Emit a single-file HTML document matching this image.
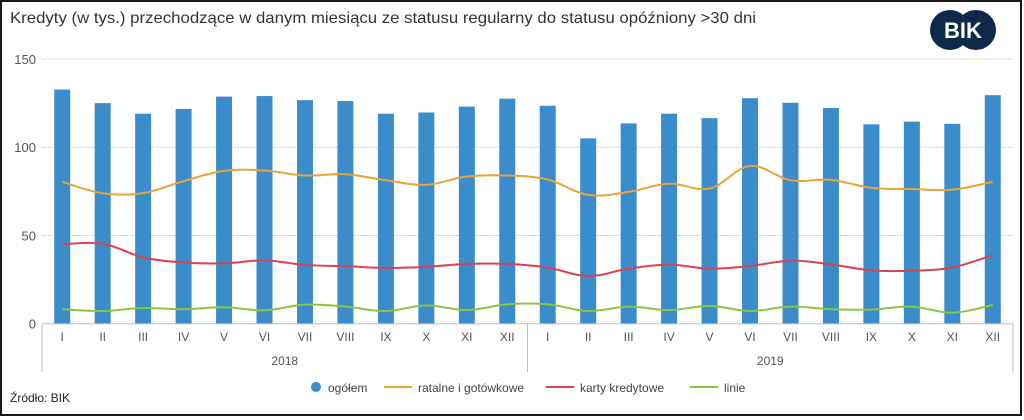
<!DOCTYPE html>
<html><head><meta charset="utf-8"><style>
body{margin:0;background:#fff;font-family:"Liberation Sans",sans-serif}
#wrap{position:relative;width:1024px;height:420px;overflow:hidden}
</style></head><body>
<div id="wrap">
<svg id="svg" width="1024" height="420" xmlns="http://www.w3.org/2000/svg" font-family="Liberation Sans, sans-serif">
<rect x="1" y="1" width="1020" height="414" fill="#fff" stroke="#1a1a1a" stroke-width="2"/>
<text x="10" y="23" font-size="16" fill="#333" textLength="746" lengthAdjust="spacingAndGlyphs">Kredyty (w tys.) przechodzące w danym miesiącu ze statusu regularny do statusu opóźniony &gt;30 dni</text>
<g>
<circle cx="950" cy="30" r="20" fill="#10284a"/><circle cx="976" cy="30" r="20" fill="#10284a"/>
<text x="963" y="38" font-size="22" font-weight="bold" fill="#fff" text-anchor="middle">BIK</text>
</g>
<g id="grid"></g><g id="bars"></g><g id="lines"></g><g id="axes"></g>
<g>
<g><circle cx="316" cy="387" r="5" fill="#3a8ccb"/><text x="328" y="392" font-size="12" fill="#444">ogółem</text></g>
<g><line x1="384" y1="387" x2="412" y2="387" stroke="#e8a33a" stroke-width="2"/><text x="418" y="392" font-size="12" fill="#444">ratalne i gotówkowe</text></g>
<g><line x1="546" y1="387" x2="574" y2="387" stroke="#d9434f" stroke-width="2"/><text x="580" y="392" font-size="12" fill="#444">karty kredytowe</text></g>
<g><line x1="690" y1="387" x2="718" y2="387" stroke="#8cc63f" stroke-width="2"/><text x="724" y="392" font-size="12" fill="#444">linie</text></g>
</g>
<text x="10" y="402" font-size="12" fill="#222">Źródło: BIK</text>
</svg>
</div>
<script>
const months=["I","II","III","IV","V","VI","VII","VIII","IX","X","XI","XII","I","II","III","IV","V","VI","VII","VIII","IX","X","XI","XII"];
const years=["2018","2019"];
const yTicks=[0,50,100,150];
const ogolem=[132.7,125,119,121.7,128.7,129,126.7,126.2,119,119.7,123,127.5,123.5,105,113.5,119,116.5,127.8,125.2,122.2,113,114.5,113.3,129.5];
const ratalne=[80.4,73.9,74,80.8,86.6,86.8,84,84.7,81.3,78.7,83.4,84,81.7,73,74.7,79.4,76.6,89.4,81.3,81.5,77,76.3,76,80.4];
const karty=[45,45.3,37.6,34.7,34.2,35.9,33.3,32.6,31.6,32.2,33.9,33.9,31.8,27,31.2,33.5,31.2,32.7,35.7,33.6,30.2,30,31.9,38.9];
const linie=[8.2,7.2,8.9,8.2,9.3,7.6,10.8,9.7,7.2,10.4,7.7,11,11,7.2,9.7,7.7,10,7.2,9.7,8.2,8,9.7,6.2,10.6];
const NS="http://www.w3.org/2000/svg";
const X0=42,X1=1013,Y0=323.7,Y150=59;
const band=(X1-X0)/months.length;
const xs=i=>X0+band*(i+0.5);
const ys=v=>Y0-(Y0-Y150)*v/150;
function mk(tag,attrs,parent){const e=document.createElementNS(NS,tag);for(const k in attrs)e.setAttribute(k,attrs[k]);document.getElementById(parent).appendChild(e);return e;}
yTicks.forEach(t=>{
  if(t>0){const g=mk('line',{x1:X0,x2:X1,y1:ys(t),y2:ys(t),stroke:'#ccc','stroke-dasharray':'2,1'},'grid');
  
  }
  const tx=mk('text',{x:36,y:ys(t)+5,'font-size':13,fill:'#555','text-anchor':'end'},'axes');tx.textContent=t;
  
  
});
ogolem.forEach((v,i)=>{
  const b=mk('rect',{x:xs(i)-8,y:ys(v),width:16,height:Y0-ys(v),fill:'#3a8ccb'},'bars');
  
  
});
function smooth(arr){
  const p=arr.map((v,i)=>[xs(i),ys(v)]);let d='M'+p[0][0]+','+p[0][1];
  for(let i=0;i<p.length-1;i++){const a=p[i-1]||p[i],b=p[i],c=p[i+1],e=p[i+2]||c;const t=0.18;
    d+=' C'+(b[0]+(c[0]-a[0])*t)+','+(b[1]+(c[1]-a[1])*t)+' '+(c[0]-(e[0]-b[0])*t)+','+(c[1]-(e[1]-b[1])*t)+' '+c[0]+','+c[1];}
  return d;}
[[ratalne,'#e8a33a','line-ratalne'],[karty,'#d9434f','line-karty'],[linie,'#8cc63f','line-linie']].forEach(s=>{
  const l=mk('path',{d:smooth(s[0]),fill:'none',stroke:s[1],'stroke-width':2},'lines');
  
  
});
mk('line',{x1:X0,x2:X1,y1:Y0,y2:Y0,stroke:'#bbb'},'axes');
const mid=X0+band*12;
[X0,mid,X1].forEach(x=>mk('line',{x1:x,x2:x,y1:Y0,y2:372,stroke:'#bbb'},'axes'));
months.forEach((m,i)=>{const t=mk('text',{x:xs(i),y:341,'font-size':12,fill:'#555','text-anchor':'middle'},'axes');t.textContent=m;
  
  });
years.forEach((yv,k)=>{const t=mk('text',{x:X0+band*(12*k+6),y:365,'font-size':12,fill:'#555','text-anchor':'middle'},'axes');t.textContent=yv;
  
  });
</script>
</body></html>
